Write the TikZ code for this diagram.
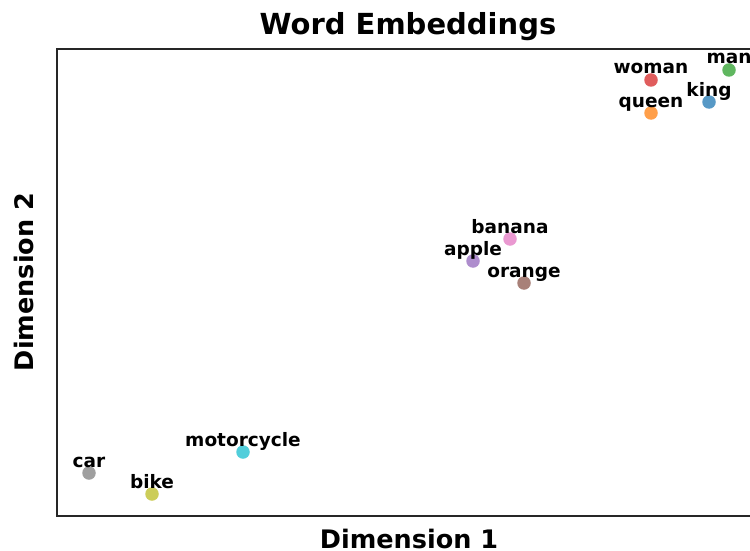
\documentclass[tikz,border=0pt]{standalone}
\usepackage{fontspec}
\setmainfont{DejaVu Sans}
\definecolor{tabblue}{HTML}{1F77B4}
\definecolor{taborange}{HTML}{FF7F0E}
\definecolor{tabgreen}{HTML}{2CA02C}
\definecolor{tabred}{HTML}{D62728}
\definecolor{tabpurple}{HTML}{9467BD}
\definecolor{tabbrown}{HTML}{8C564B}
\definecolor{tabpink}{HTML}{E377C2}
\definecolor{tabgray}{HTML}{7F7F7F}
\definecolor{tabolive}{HTML}{BCBD22}
\definecolor{tabcyan}{HTML}{17BECF}
\tikzset{
  dot/.style={circle,inner sep=0pt,minimum size=13.5pt,fill opacity=0.75,draw=none},
  word/.style={anchor=base,inner sep=0pt,font=\fontsize{18.5}{20}\selectfont\bfseries},
  axlabel/.style={anchor=base,inner sep=0pt,font=\fontsize{25.5}{28}\selectfont\bfseries},
}
\begin{document}
\begin{tikzpicture}[x=1pt,y=-1pt]
\useasboundingbox (0,0) rectangle (750,551);
\clip (0,0) rectangle (750,551);
\fill[white] (0,0) rectangle (750,551);

% frame
\draw [line width=1.5pt,black!85] (760,49) -- (57,49) -- (57,516) -- (760,516);

% points
\node (man)        at (729, 70) [dot,fill=tabgreen]  {};
\node (woman)      at (651, 80) [dot,fill=tabred]    {};
\node (king)       at (709,102) [dot,fill=tabblue]   {};
\node (queen)      at (651,113) [dot,fill=taborange] {};
\node (banana)     at (510,239) [dot,fill=tabpink]   {};
\node (apple)      at (473,261) [dot,fill=tabpurple] {};
\node (orange)     at (524,283) [dot,fill=tabbrown]  {};
\node (motorcycle) at (243,452) [dot,fill=tabcyan]   {};
\node (car)        at ( 89,473) [dot,fill=tabgray]   {};
\node (bike)       at (152,494) [dot,fill=tabolive]  {};

% words
\node (man-w)        at (729, 64) [word] {man};
\node (woman-w)      at (651, 74) [word] {woman};
\node (king-w)       at (709, 96) [word] {king};
\node (queen-w)      at (651,107) [word] {queen};
\node (banana-w)     at (510,233) [word] {banana};
\node (apple-w)      at (473,255) [word] {apple};
\node (orange-w)     at (524,277) [word] {orange};
\node (motorcycle-w) at (243,446) [word] {motorcycle};
\node (car-w)        at ( 89,467) [word] {car};
\node (bike-w)       at (152,488) [word] {bike};

% titles
\node (title) at (408,35) [anchor=base,inner sep=0pt,font=\fontsize{29}{32}\selectfont\bfseries] {Word Embeddings};
\node (xlab)  at (409,548.5) [axlabel] {Dimension 1};
\node (ylab)  at (33,282) [axlabel,rotate=90] {Dimension 2};
\end{tikzpicture}
\end{document}
